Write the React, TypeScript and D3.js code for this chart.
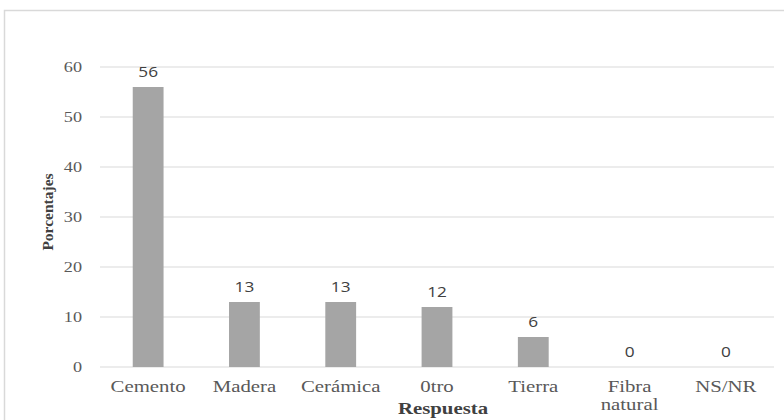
import React from "react";
import * as d3 from "d3";

const categories: string[][] = [["Cemento"], ["Madera"], ["Cerámica"], ["0tro"], ["Tierra"], ["Fibra", "natural"], ["NS/NR"]];
const values: number[] = [56, 13, 13, 12, 6, 0, 0];
const yTicks: number[] = [0, 10, 20, 30, 40, 50, 60];
const yTitle = "Porcentajes";
const xTitle = "Respuesta";

export default function App() {
  const W = 784, H = 420;
  const left = 100, right = 774, top = 67, bottom = 367;
  const x = d3.scaleBand<number>().domain(d3.range(values.length)).range([left, right]).paddingInner(0.68).paddingOuter(0.34);
  const y = d3.scaleLinear().domain([0, 60]).range([bottom, top]);
  const serif = "Liberation Serif, Times New Roman, serif";
  const sans = "Open Sans, Noto Sans, sans-serif";
  const sx = 1.3;
  return (
    <svg width={W} height={H} style={{ position: "absolute", left: 0, top: 0 }}>
      <rect x={0} y={0} width={W} height={H} fill="#fff" />
      <rect x={4.5} y={10.5} width={W} height={H} fill="none" stroke="#d9d9d9" strokeWidth={1.5} />
      {yTicks.map((t) => (
        <g key={t}>
          <line x1={left} x2={right} y1={y(t)} y2={y(t)} stroke="#d9d9d9" strokeWidth={1} />
          <text transform={`translate(82,${y(t) + 5}) scale(${sx},1)`} textAnchor="end" style={{ fontFamily: serif }} fontSize={14} fill="#595959">{t}</text>
        </g>
      ))}
      {values.map((v, i) => {
        const cx = (x(i) as number) + x.bandwidth() / 2;
        return (
          <g key={i}>
            <rect x={x(i)} y={y(v)} width={x.bandwidth()} height={y(0) - y(v)} fill="#a5a5a5" />
            <text transform={`translate(${cx},${y(v) - 10}) scale(1.15,1)`} textAnchor="middle" style={{ fontFamily: sans }} fontSize={15} fill="#404040">{v}</text>
            {categories[i].map((line, j) => (
              <text key={j} transform={`translate(${cx},${392 + j * 17.5}) scale(${sx},1)`} textAnchor="middle" style={{ fontFamily: serif }} fontSize={16} fill="#595959">{line}</text>
            ))}
          </g>
        );
      })}
      <text transform={`translate(53,212) rotate(-90)`} textAnchor="middle" style={{ fontFamily: serif }} fontWeight="bold" fontSize={15.5} fill="#404040">{yTitle}</text>
      <text transform={`translate(443,413.5) scale(${sx},1)`} textAnchor="middle" style={{ fontFamily: serif }} fontWeight="bold" fontSize={16} fill="#404040">{xTitle}</text>
    </svg>
  );
}
